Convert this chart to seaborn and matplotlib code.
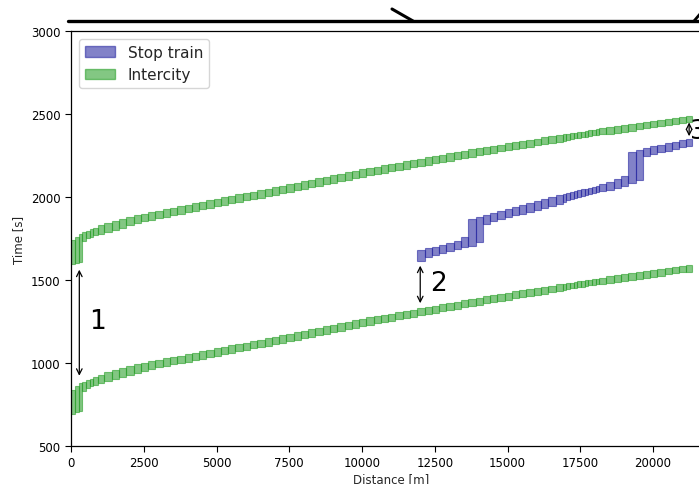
import numpy as np
import pandas as pd
import matplotlib
matplotlib.use("Agg")
import matplotlib.pyplot as plt
import seaborn as sns
from matplotlib.patches import Patch
from matplotlib.lines import Line2D

# block section boundaries along the line [m]
block_edges = [0, 130, 260, 380, 510, 640, 770, 930, 1150, 1400, 1650, 1900, 2150, 2400,
               2650, 2900, 3150, 3400, 3650, 3900, 4150, 4400, 4650, 4900,
               5150, 5400, 5650, 5900, 6150, 6400, 6650, 6900, 7150, 7400,
               7650, 7900, 8150, 8400, 8650, 8900, 9150, 9400, 9650, 9900,
               10150, 10400, 10650, 10900, 11150, 11400, 11650, 11900, 12150, 12400,
               12650, 12900, 13150, 13400, 13650, 13900, 14150, 14400, 14650, 14900,
               15150, 15400, 15650, 15900, 16150, 16400, 16650, 16900,
               17025, 17150, 17275, 17400, 17525, 17650, 17775, 17900, 18025, 18150,
               18400, 18650, 18900, 19150, 19400, 19650, 19900, 20150, 20400, 20650,
               20900, 21150, 21350]

# intercity passing times at the block boundaries, relative to route setting [s]
ic_times = [100, 139, 159, 176, 186, 196, 205, 215, 228, 242, 255, 267, 279, 290,
            299, 308, 317, 326, 334, 343, 352, 361, 370, 379,
            387, 396, 405, 414, 422, 431, 440, 449, 458, 467,
            476, 485, 494, 503, 512, 521, 530, 539, 548, 557,
            565, 573, 581, 589, 597, 605, 613, 621, 629, 637,
            645, 653, 661, 669, 677, 685, 692, 700, 708, 715,
            723, 730, 737, 744, 751, 758, 765, 772,
            776, 779, 783, 786, 790, 793, 797, 800, 803, 807,
            813, 820, 826, 833, 839, 846, 852, 859, 865, 871,
            877, 883, 887]
ic_station_start = [0, 8, 13]      # station exit route set at once
ic_departures = [695, 1595]        # route setting time of both intercity trains

# stop train passing times (absolute) from boundary 51 (11900 m) onwards [s]
st_first_block = 51
st_times = [1662, 1673, 1684, 1695, 1706, 1717, 1728, 1750, 1861, 1874,
            1886, 1898, 1910, 1921, 1933, 1945, 1957, 1969, 1980, 1992,
            2004, 2010, 2016, 2022, 2028, 2033, 2039, 2045, 2051, 2057,
            2063, 2075, 2087, 2105, 2123, 2267, 2279, 2290, 2300, 2310,
            2319, 2328, 2337, 2346]
st_station_start = [1615]

setup_time = 21
release_time = 6

ic_color = '#1e9a1e'
st_color = '#1c1c9c'


def block_table(times, first, first_starts, offset=0):
    rows = []
    for k in range(len(times) - 1):
        i = first + k
        if k < len(first_starts):
            start = first_starts[k]
        else:
            start = times[k - 1] - setup_time
        end = times[k + 1] + release_time
        rows.append({'x': block_edges[i], 'w': block_edges[i + 1] - block_edges[i],
                     'start': start + offset, 'end': end + offset})
    return pd.DataFrame(rows)


sns.set_style("ticks")
fig = plt.figure(figsize=(6.99, 4.85), dpi=100)
ax = fig.add_axes([0.1016, 0.0784, 0.9159, 0.8557])

for dep in ic_departures:
    df = block_table(ic_times, 0, ic_station_start, dep)
    ax.bar(df['x'], df['end'] - df['start'], width=df['w'], bottom=df['start'],
           align='edge', color=ic_color, edgecolor=ic_color, alpha=0.55, linewidth=0.8)

df_st = block_table(st_times, st_first_block, st_station_start)
ax.bar(df_st['x'], df_st['end'] - df_st['start'], width=df_st['w'], bottom=df_st['start'],
       align='edge', color=st_color, edgecolor=st_color, alpha=0.55, linewidth=0.8)

ax.set_xlim(0, 22000)
ax.set_ylim(500, 3000)
ax.set_xticks([0, 2500, 5000, 7500, 10000, 12500, 15000, 17500, 20000])
ax.set_yticks([500, 1000, 1500, 2000, 2500, 3000])
ax.tick_params(labelsize=8.5, length=4, width=0.8, colors='black')
ax.set_xlabel('Distance [m]', fontsize=8.5, labelpad=2)
ax.set_ylabel('Time [s]', fontsize=8.5, labelpad=4)
for s in ax.spines.values():
    s.set_color('black')
    s.set_linewidth(0.9)

# headway arrows
arrows = [(285, 1562, 923, '1', 900, 1255),
          (12000, 1586, 1360, '2', 12620, 1482),
          (21240, 2449, 2366, '3', 21560, 2399)]
for x, y1, y2, lab, tx, ty in arrows:
    ax.annotate('', xy=(x, y2), xytext=(x, y1),
                arrowprops=dict(arrowstyle='<->', lw=0.9, color='black', shrinkA=0, shrinkB=0))
    ax.text(tx, ty, lab, fontsize=19, ha='center', va='center', color='black', clip_on=False)

handles = [Patch(facecolor=st_color, edgecolor=st_color, alpha=0.55, label='Stop train'),
           Patch(facecolor=ic_color, edgecolor=ic_color, alpha=0.55, label='Intercity')]
ax.legend(handles=handles, loc='upper left', fontsize=11, frameon=True,
          borderaxespad=0.5, handlelength=2.0)

# bits of the figure above that were caught in the screenshot
fig.add_artist(Line2D([68 / 699, 1.0], [1 - 22 / 485, 1 - 22 / 485], color='black', lw=2.4))
fig.add_artist(Line2D([392 / 699, 413 / 699], [1 - 10 / 485, 1 - 22 / 485], color='black', lw=2.2))
fig.add_artist(Line2D([694 / 699, 700 / 699], [1 - 22 / 485, 1 - 15 / 485], color='black', lw=2.0))

fig.savefig('out.png', dpi=100)
